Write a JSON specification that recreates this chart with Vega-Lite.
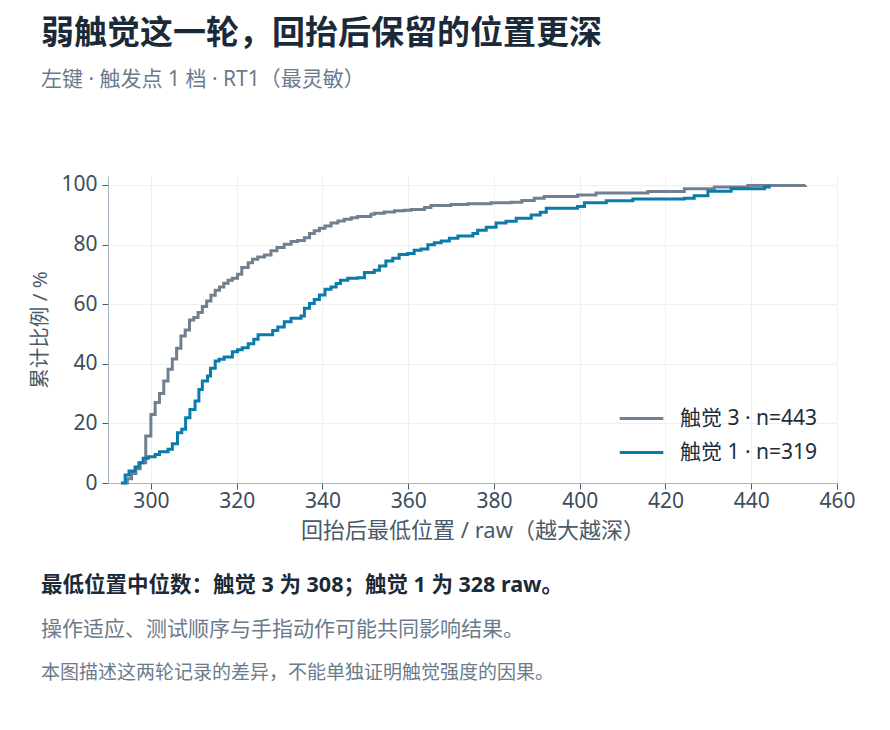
{
  "$schema": "https://vega.github.io/schema/vega-lite/v6.json",
  "background": "white",
  "padding": {"left": 30, "top": 17, "right": 20, "bottom": 10},
  "config": {
    "font": "Noto Sans, Noto Sans CJK SC",
    "view": {"stroke": null},
    "axis": {
      "labelFont": "Noto Sans, Noto Sans CJK SC",
      "titleFont": "Noto Sans, Noto Sans CJK SC",
      "labelFontSize": 21,
      "labelColor": "#3d4d5d",
      "titleFontWeight": "normal",
      "titleColor": "#4a5a6a",
      "gridColor": "#eef1f4",
      "domainColor": "#aab8c5",
      "tickColor": "#4a5a6a",
      "tickSize": 6
    }
  },
  "title": {
    "text": "本图描述这两轮记录的差异，不能单独证明触觉强度的因果。",
    "orient": "bottom",
    "anchor": "start",
    "fontSize": 19,
    "fontWeight": "normal",
    "color": "#6b7b8c",
    "dx": 10,
    "offset": 24
  },
  "vconcat": [
    {
      "title": {
        "text": "最低位置中位数：触觉 3 为 308；触觉 1 为 328 raw。",
        "subtitle": "操作适应、测试顺序与手指动作可能共同影响结果。",
        "orient": "bottom",
        "anchor": "start",
        "fontSize": 21.5,
        "fontWeight": "bold",
        "color": "#1b2a38",
        "subtitleFontSize": 21,
        "subtitleColor": "#6b7b8c",
        "subtitlePadding": 22,
        "dx": 10,
        "offset": 34
      },
      "vconcat": [
        {
          "width": 729,
          "height": 307,
          "title": {
            "text": "弱触觉这一轮，回抬后保留的位置更深",
            "subtitle": "左键 · 触发点 1 档 · RT1（最灵敏）",
            "anchor": "start",
            "fontSize": 33,
            "fontWeight": "bold",
            "color": "#1b2a38",
            "subtitleFontSize": 21,
            "subtitleColor": "#6b7b8c",
            "subtitlePadding": 18,
            "dx": 10,
            "offset": 84
          },
          "data": {
            "values": [
              {"series": "触觉 3 · n=443", "x": 293.8, "y": 0},
              {"series": "触觉 3 · n=443", "x": 294.5, "y": 1.4},
              {"series": "触觉 3 · n=443", "x": 295.5, "y": 3.2},
              {"series": "触觉 3 · n=443", "x": 296.5, "y": 4.8},
              {"series": "触觉 3 · n=443", "x": 297.5, "y": 6.8},
              {"series": "触觉 3 · n=443", "x": 298.8, "y": 15.8},
              {"series": "触觉 3 · n=443", "x": 300, "y": 23},
              {"series": "触觉 3 · n=443", "x": 301, "y": 27},
              {"series": "触觉 3 · n=443", "x": 302, "y": 30},
              {"series": "触觉 3 · n=443", "x": 303, "y": 34.2},
              {"series": "触觉 3 · n=443", "x": 304, "y": 38.2},
              {"series": "触觉 3 · n=443", "x": 305, "y": 41.6},
              {"series": "触觉 3 · n=443", "x": 306, "y": 45.2},
              {"series": "触觉 3 · n=443", "x": 307, "y": 49.3},
              {"series": "触觉 3 · n=443", "x": 308, "y": 51.3},
              {"series": "触觉 3 · n=443", "x": 309, "y": 54.7},
              {"series": "触觉 3 · n=443", "x": 310, "y": 55.5},
              {"series": "触觉 3 · n=443", "x": 311, "y": 57.2},
              {"series": "触觉 3 · n=443", "x": 312, "y": 59.2},
              {"series": "触觉 3 · n=443", "x": 313, "y": 61.1},
              {"series": "触觉 3 · n=443", "x": 314, "y": 63},
              {"series": "触觉 3 · n=443", "x": 315, "y": 64.7},
              {"series": "触觉 3 · n=443", "x": 316, "y": 65.8},
              {"series": "触觉 3 · n=443", "x": 317, "y": 67},
              {"series": "触觉 3 · n=443", "x": 318, "y": 68},
              {"series": "触觉 3 · n=443", "x": 319, "y": 68.7},
              {"series": "触觉 3 · n=443", "x": 320.2, "y": 70},
              {"series": "触觉 3 · n=443", "x": 321.2, "y": 72.3},
              {"series": "触觉 3 · n=443", "x": 322.7, "y": 73.9},
              {"series": "触觉 3 · n=443", "x": 323.7, "y": 75.1},
              {"series": "触觉 3 · n=443", "x": 324.9, "y": 75.8},
              {"series": "触觉 3 · n=443", "x": 326.5, "y": 76.5},
              {"series": "触觉 3 · n=443", "x": 328, "y": 77.9},
              {"series": "触觉 3 · n=443", "x": 329.4, "y": 79},
              {"series": "触觉 3 · n=443", "x": 331.1, "y": 80.1},
              {"series": "触觉 3 · n=443", "x": 332.7, "y": 81},
              {"series": "触觉 3 · n=443", "x": 334.2, "y": 81.4},
              {"series": "触觉 3 · n=443", "x": 335.8, "y": 82.3},
              {"series": "触觉 3 · n=443", "x": 337, "y": 83.7},
              {"series": "触觉 3 · n=443", "x": 338.1, "y": 84.6},
              {"series": "触觉 3 · n=443", "x": 339.3, "y": 85.5},
              {"series": "触觉 3 · n=443", "x": 340.6, "y": 86.2},
              {"series": "触觉 3 · n=443", "x": 342, "y": 87.2},
              {"series": "触觉 3 · n=443", "x": 343.6, "y": 87.9},
              {"series": "触觉 3 · n=443", "x": 345.1, "y": 88.5},
              {"series": "触觉 3 · n=443", "x": 346.7, "y": 89},
              {"series": "触觉 3 · n=443", "x": 348.2, "y": 89.4},
              {"series": "触觉 3 · n=443", "x": 351.3, "y": 90.2},
              {"series": "触觉 3 · n=443", "x": 352.1, "y": 90.5},
              {"series": "触觉 3 · n=443", "x": 354.4, "y": 90.9},
              {"series": "触觉 3 · n=443", "x": 356.8, "y": 91.3},
              {"series": "触觉 3 · n=443", "x": 359.1, "y": 91.5},
              {"series": "触觉 3 · n=443", "x": 360.7, "y": 91.8},
              {"series": "触觉 3 · n=443", "x": 363.8, "y": 92.4},
              {"series": "触觉 3 · n=443", "x": 365.3, "y": 93.1},
              {"series": "触觉 3 · n=443", "x": 370, "y": 93.4},
              {"series": "触觉 3 · n=443", "x": 373.9, "y": 93.7},
              {"series": "触觉 3 · n=443", "x": 379.3, "y": 94},
              {"series": "触觉 3 · n=443", "x": 384, "y": 94.2},
              {"series": "触觉 3 · n=443", "x": 386.5, "y": 94.8},
              {"series": "触觉 3 · n=443", "x": 389.4, "y": 95.5},
              {"series": "触觉 3 · n=443", "x": 391.7, "y": 96.1},
              {"series": "触觉 3 · n=443", "x": 399.5, "y": 96.6},
              {"series": "触觉 3 · n=443", "x": 403.8, "y": 97.3},
              {"series": "触觉 3 · n=443", "x": 415.9, "y": 97.8},
              {"series": "触觉 3 · n=443", "x": 424.4, "y": 98.7},
              {"series": "触觉 3 · n=443", "x": 431.4, "y": 99.3},
              {"series": "触觉 3 · n=443", "x": 439.2, "y": 99.8},
              {"series": "触觉 3 · n=443", "x": 452.6, "y": 100},
              {"series": "触觉 1 · n=319", "x": 293, "y": 0},
              {"series": "触觉 1 · n=319", "x": 294, "y": 2.7},
              {"series": "触觉 1 · n=319", "x": 294.9, "y": 4},
              {"series": "触觉 1 · n=319", "x": 296.3, "y": 5.4},
              {"series": "触觉 1 · n=319", "x": 297.2, "y": 6.8},
              {"series": "触觉 1 · n=319", "x": 298.2, "y": 8.3},
              {"series": "触觉 1 · n=319", "x": 299.4, "y": 8.8},
              {"series": "触觉 1 · n=319", "x": 301, "y": 9.6},
              {"series": "触觉 1 · n=319", "x": 302, "y": 10.5},
              {"series": "触觉 1 · n=319", "x": 304, "y": 11.3},
              {"series": "触觉 1 · n=319", "x": 305, "y": 13.2},
              {"series": "触觉 1 · n=319", "x": 306.2, "y": 16.9},
              {"series": "触觉 1 · n=319", "x": 307.2, "y": 18},
              {"series": "触觉 1 · n=319", "x": 308.1, "y": 21.9},
              {"series": "触觉 1 · n=319", "x": 309.1, "y": 24.7},
              {"series": "触觉 1 · n=319", "x": 310.3, "y": 27.5},
              {"series": "触觉 1 · n=319", "x": 311.2, "y": 31.4},
              {"series": "触觉 1 · n=319", "x": 312, "y": 34.2},
              {"series": "触觉 1 · n=319", "x": 313.2, "y": 35.9},
              {"series": "触觉 1 · n=319", "x": 313.9, "y": 38.5},
              {"series": "触觉 1 · n=319", "x": 315, "y": 40.9},
              {"series": "触觉 1 · n=319", "x": 315.9, "y": 41.5},
              {"series": "触觉 1 · n=319", "x": 317.1, "y": 42.3},
              {"series": "触觉 1 · n=319", "x": 319, "y": 44},
              {"series": "触觉 1 · n=319", "x": 320.2, "y": 44.7},
              {"series": "触觉 1 · n=319", "x": 321.3, "y": 45.4},
              {"series": "触觉 1 · n=319", "x": 322.7, "y": 46.7},
              {"series": "触觉 1 · n=319", "x": 324, "y": 48.2},
              {"series": "触觉 1 · n=319", "x": 325, "y": 49.7},
              {"series": "触觉 1 · n=319", "x": 328.4, "y": 51.2},
              {"series": "触觉 1 · n=319", "x": 329.6, "y": 52.3},
              {"series": "触觉 1 · n=319", "x": 331.1, "y": 54.1},
              {"series": "触觉 1 · n=319", "x": 332.7, "y": 55.3},
              {"series": "触觉 1 · n=319", "x": 335, "y": 56},
              {"series": "触觉 1 · n=319", "x": 335.8, "y": 58.6},
              {"series": "触觉 1 · n=319", "x": 337, "y": 60.2},
              {"series": "触觉 1 · n=319", "x": 338.1, "y": 61.6},
              {"series": "触觉 1 · n=319", "x": 339.3, "y": 63.1},
              {"series": "触觉 1 · n=319", "x": 340.6, "y": 65},
              {"series": "触觉 1 · n=319", "x": 342, "y": 65.8},
              {"series": "触觉 1 · n=319", "x": 343.2, "y": 66.9},
              {"series": "触觉 1 · n=319", "x": 344.2, "y": 68},
              {"series": "触觉 1 · n=319", "x": 345.9, "y": 68.7},
              {"series": "触觉 1 · n=319", "x": 348.2, "y": 68.9},
              {"series": "触觉 1 · n=319", "x": 349.8, "y": 70.6},
              {"series": "触觉 1 · n=319", "x": 352.1, "y": 71.4},
              {"series": "触觉 1 · n=319", "x": 353.3, "y": 72.8},
              {"series": "触觉 1 · n=319", "x": 354.8, "y": 74.5},
              {"series": "触觉 1 · n=319", "x": 356.4, "y": 75.4},
              {"series": "触觉 1 · n=319", "x": 357.9, "y": 76.7},
              {"series": "触觉 1 · n=319", "x": 359.9, "y": 77},
              {"series": "触觉 1 · n=319", "x": 361.4, "y": 78.1},
              {"series": "触觉 1 · n=319", "x": 363, "y": 78.5},
              {"series": "触觉 1 · n=319", "x": 364.6, "y": 79.9},
              {"series": "触觉 1 · n=319", "x": 366.1, "y": 80.6},
              {"series": "触觉 1 · n=319", "x": 367.7, "y": 81.2},
              {"series": "触觉 1 · n=319", "x": 369.6, "y": 82.1},
              {"series": "触觉 1 · n=319", "x": 371.6, "y": 82.9},
              {"series": "触觉 1 · n=319", "x": 375.1, "y": 83.7},
              {"series": "触觉 1 · n=319", "x": 376.2, "y": 84.8},
              {"series": "触觉 1 · n=319", "x": 378.2, "y": 85.8},
              {"series": "触觉 1 · n=319", "x": 380.5, "y": 87.2},
              {"series": "触觉 1 · n=319", "x": 382.8, "y": 87.8},
              {"series": "触觉 1 · n=319", "x": 385.2, "y": 88.8},
              {"series": "触觉 1 · n=319", "x": 388.7, "y": 89.9},
              {"series": "触觉 1 · n=319", "x": 390.8, "y": 90.8},
              {"series": "触觉 1 · n=319", "x": 392.2, "y": 92.2},
              {"series": "触觉 1 · n=319", "x": 399.5, "y": 92.8},
              {"series": "触觉 1 · n=319", "x": 401.1, "y": 94},
              {"series": "触觉 1 · n=319", "x": 406.2, "y": 94.7},
              {"series": "触觉 1 · n=319", "x": 412.4, "y": 95.3},
              {"series": "触觉 1 · n=319", "x": 424.4, "y": 95.5},
              {"series": "触觉 1 · n=319", "x": 426.7, "y": 96.4},
              {"series": "触觉 1 · n=319", "x": 429.9, "y": 97.9},
              {"series": "触觉 1 · n=319", "x": 435.3, "y": 98.7},
              {"series": "触觉 1 · n=319", "x": 443.1, "y": 99.3},
              {"series": "触觉 1 · n=319", "x": 444.2, "y": 100}
            ]
          },
          "mark": {"type": "line", "interpolate": "step-after", "strokeWidth": 3},
          "encoding": {
            "x": {
              "field": "x",
              "type": "quantitative",
              "scale": {"domain": [290, 460], "nice": false, "zero": false},
              "axis": {
                "title": "回抬后最低位置 / raw（越大越深）",
                "titleFontSize": 22,
                "values": [300, 320, 340, 360, 380, 400, 420, 440, 460],
                "labelFlush": false,
                "labelPadding": 1,
                "titlePadding": 9
              }
            },
            "y": {
              "field": "y",
              "type": "quantitative",
              "scale": {"domain": [0, 103], "nice": false},
              "axis": {
                "title": "累计比例 / %",
                "titleFontSize": 20.5,
                "values": [0, 20, 40, 60, 80, 100],
                "labelFlush": false,
                "labelPadding": 5,
                "titlePadding": 10
              }
            },
            "color": {
              "field": "series",
              "type": "nominal",
              "scale": {
                "domain": ["触觉 3 · n=443", "触觉 1 · n=319"],
                "range": ["#708090", "#0a7bab"]
              },
              "legend": {
                "title": null,
                "orient": "none",
                "legendX": 510,
                "legendY": 219,
                "symbolType": "stroke",
                "symbolSize": 1900,
                "symbolStrokeWidth": 3,
                "labelFontSize": 21,
                "labelColor": "#1e2d3c",
                "labelOffset": 15,
                "rowPadding": -8
              }
            }
          }
        }
      ]
    }
  ]
}
